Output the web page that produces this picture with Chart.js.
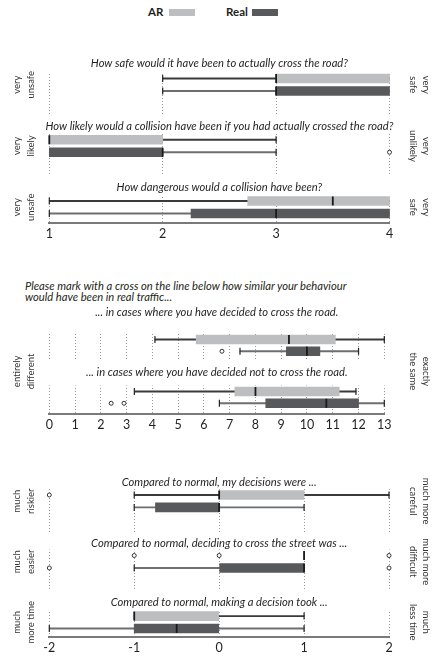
<!DOCTYPE html>
<html>
<head>
<meta charset="utf-8">
<script src="https://cdn.jsdelivr.net/npm/chart.js@4.4.1/dist/chart.umd.min.js"></script>
<style>
  body { margin: 0; width: 437px; height: 657px; background: #fff; position: relative; overflow: hidden; font-family: Lato, sans-serif; color: #231f20; }
  canvas { position: absolute; left: 0; }
  .lg { position: absolute; top: 5px; font-weight: bold; font-size: 11.5px; line-height: 14px; }
  .sw { position: absolute; top: 9px; width: 26px; height: 7px; }
  #intro { position: absolute; left: 25px; top: 281px; font-style: italic; font-size: 11.2px; line-height: 10.5px; }
</style>
</head>
<body>
<div class="lg" style="left:148px">AR</div>
<div class="sw" style="left:169px;background:#bcbec0"></div>
<div class="lg" style="left:226px">Real</div>
<div class="sw" style="left:252px;background:#58595b"></div>
<div id="intro">Please mark with a cross on the line below how similar your behaviour<br>would have been in real traffic...</div>
<canvas id="safety"></canvas>
<canvas id="similarity"></canvas>
<canvas id="comparison"></canvas>
<script>
/*******  Data: how safe / likely / dangerous  ******/
// each row: [min, q1, median, q3, max]
var safetyQuestions = ['How safe would it have been to actually cross the road?',
  'How likely would a collision have been if you had actually crossed the road?',
  'How dangerous would a collision have been?'];
var safetyLow = [['very', 'unsafe'], ['very', 'likely'], ['very', 'unsafe']];
var safetyHigh = [['very', 'safe'], ['very', 'unlikely'], ['very', 'safe']];
var safetyTicks = [1, 2, 3, 4];
var safetyAR = [[2, 3, 3, 4, 4], [1, 1, 1, 2, 3], [1, 2.75, 3.5, 4, 4]];
var safetyReal = [[2, 3, 3, 4, 4], [1, 1, 2, 2, 3], [1, 2.25, 3, 4, 4]];
var safetyOutAR = [[], [], []];
var safetyOutReal = [[], [4], []];

/*******  Data: similarity to real traffic  ******/
var similarQuestions = ['... in cases where you have decided to cross the road.',
  '... in cases where you have decided not to cross the road.'];
var similarLow = [['entirely', 'different']];
var similarHigh = [['exactly', 'the same']];
var similarTicks = [0, 1, 2, 3, 4, 5, 6, 7, 8, 9, 10, 11, 12, 13];
var similarAR = [[4.1, 5.7, 9.3, 11.1, 13], [3.3, 7.2, 8.0, 11.25, 11.9]];
var similarReal = [[7.4, 9.2, 10.0, 10.5, 12], [6.6, 8.4, 10.75, 12, 13]];
var similarOutAR = [[], []];
var similarOutReal = [[6.7], [2.4, 2.9]];

/*******  Data: compared to normal  ******/
var compareQuestions = ['Compared to normal, my decisions were ...',
  'Compared to normal, deciding to cross the street was ...',
  'Compared to normal, making a decision took ...'];
var compareLow = [['much', 'riskier'], ['much', 'easier'], ['much', 'more time']];
var compareHigh = [['much more', 'careful'], ['much more', 'difficult'], ['much', 'less time']];
var compareTicks = [-2, -1, 0, 1, 2];
var compareAR = [[-1, 0, 0, 1, 2], [1, 1, 1, 1, 1], [-1, -1, -1, 0, 1]];
var compareReal = [[-1, -0.75, 0, 0, 1], [-1, 0, 1, 1, 1], [-2, -1, -0.5, 0, 1]];
var compareOutAR = [[-2], [-1, 0, 2], []];
var compareOutReal = [[], [-2, 2], []];

/*******  Styles & layout  ******/
var boxColors = ['#bcbec0', '#58595b'];
var whiskerColors = ['#3a3a3a', '#6d6e70'];
var inkColor = '#231f20';
var fontFamily = 'Lato, sans-serif';

var safetyLayout = { top: 50, areaTop: 71, areaBottom: 223, firstRow: 78.5, rowGap: 12.5, blockGap: 61.25, lift: [15.5, 13.5, 14], left: 49.3, right: 389.5, sideSpan: 'block' };
var similarLayout = { top: 300, areaTop: 334, areaBottom: 414, firstRow: 339.5, rowGap: 11.75, blockGap: 52, lift: [27.5, 19.5], left: 49.3, right: 384.3, sideSpan: 'all' };
var compareLayout = { top: 470, areaTop: 489, areaBottom: 637.5, firstRow: 495, rowGap: 12.5, blockGap: 60.75, lift: [13, 12, 14], left: 49.3, right: 389, sideSpan: 'block' };

function boxDatasets(ar, real, outAR, outReal, block) {
  var sets = [];
  [ar, real].forEach(function (stats, s) {
    var outliers = s === 0 ? outAR : outReal;
    var rowOf = function (q) { return q * block + s; };
    var caps = [];
    var outPts = [];
    stats.forEach(function (st, q) {
      if (st[0] < st[1]) caps.push({ x: st[0], y: rowOf(q) });
      if (st[4] > st[3]) caps.push({ x: st[4], y: rowOf(q) });
      outliers[q].forEach(function (v) { outPts.push({ x: v, y: rowOf(q) }); });
    });
    sets.push({
      type: 'bar', indexAxis: 'y', grouped: false, order: 4, barThickness: 1.2,
      backgroundColor: whiskerColors[s], borderWidth: 0,
      data: stats.map(function (st, q) { return { y: rowOf(q), x: [st[0], st[4]] }; })
    });
    sets.push({
      type: 'bar', indexAxis: 'y', grouped: false, order: 3, barThickness: 9,
      backgroundColor: boxColors[s], borderWidth: 0,
      data: stats.map(function (st, q) { return { y: rowOf(q), x: [st[1], st[3]] }; })
    });
    sets.push({
      type: 'scatter', order: 2, data: caps, pointStyle: 'line', rotation: 90,
      radius: 3.5, borderColor: '#222', borderWidth: 1.2
    });
    sets.push({
      type: 'scatter', order: 1, pointStyle: 'line', rotation: 90,
      radius: 4.5, borderColor: '#1a1a1a', borderWidth: 1.8,
      data: stats.map(function (st, q) { return { x: st[2], y: rowOf(q) }; })
    });
    sets.push({
      type: 'scatter', order: 0, data: outPts, pointStyle: 'circle',
      radius: 2, borderColor: '#333', borderWidth: 1, backgroundColor: '#fff'
    });
  });
  return sets;
}

function drawSide(ctx, lines, x, yc, angle) {
  ctx.save();
  ctx.font = '9.5px ' + fontFamily;
  ctx.fillStyle = '#333';
  ctx.textAlign = 'center';
  ctx.textBaseline = 'middle';
  lines.forEach(function (t, i) {
    ctx.save();
    ctx.translate(x[i], yc);
    ctx.rotate(angle);
    ctx.fillText(t, 0, 0);
    ctx.restore();
  });
  ctx.restore();
}

function textPlugin(titles, low, high, lay) {
  var block = lay.blockGap / lay.rowGap;
  return {
    id: 'questionText',
    beforeDatasetsDraw: function (chart) {
      var ctx = chart.ctx, ys = chart.scales.y, a = chart.chartArea;
      titles.forEach(function (t, q) {
        var yAR = ys.getPixelForValue(q * block);
        var ty = yAR - lay.lift[q];
        ctx.save();
        ctx.fillStyle = '#fff';
        ctx.fillRect(a.left - 3, ty - 11, a.right - a.left + 6, yAR - 6 - (ty - 11));
        ctx.font = 'italic 11.2px ' + fontFamily;
        ctx.fillStyle = inkColor;
        ctx.textAlign = 'center';
        ctx.textBaseline = 'middle';
        ctx.fillText(t, (a.left + a.right) / 2, ty);
        ctx.restore();
      });
      low.forEach(function (lines, q) {
        var yc;
        if (lay.sideSpan === 'all') {
          yc = (ys.getPixelForValue(0) + ys.getPixelForValue((titles.length - 1) * block + 1)) / 2;
        } else {
          yc = (ys.getPixelForValue(q * block) + ys.getPixelForValue(q * block + 1)) / 2;
        }
        drawSide(ctx, lines, [17, 30.5], yc, -Math.PI / 2);
        drawSide(ctx, high[q], [426, 413], yc, Math.PI / 2);
      });
    }
  };
}

function makePanel(id, ticks, ar, real, outAR, outReal, titles, low, high, lay) {
  var canvas = document.getElementById(id);
  var axisHeight = 22;
  var height = lay.areaBottom - lay.top + axisHeight;
  canvas.width = 437;
  canvas.height = height;
  canvas.style.top = lay.top + 'px';
  var block = lay.blockGap / lay.rowGap;
  var yMin = -(lay.firstRow - lay.areaTop) / lay.rowGap;
  var yMax = yMin + (lay.areaBottom - lay.areaTop) / lay.rowGap;
  return new Chart(canvas, {
    type: 'bar',
    data: { datasets: boxDatasets(ar, real, outAR, outReal, block) },
    options: {
      responsive: false,
      animation: false,
      events: [],
      clip: false,
      layout: { padding: { left: lay.left, right: 437 - lay.right, top: lay.areaTop - lay.top, bottom: 0 } },
      plugins: { legend: { display: false }, tooltip: { enabled: false } },
      scales: {
        x: {
          type: 'linear', offset: false, min: ticks[0], max: ticks[ticks.length - 1],
          afterFit: function (s) { s.height = axisHeight; },
          afterBuildTicks: function (s) { s.ticks = ticks.map(function (v) { return { value: v }; }); },
          grid: { offset: false, color: '#9a9a9a', lineWidth: 1, drawTicks: false },
          border: { display: true, color: '#7a7a7a', width: 2, dash: [1, 2] },
          ticks: { color: inkColor, padding: 3, font: { family: fontFamily, size: 12.5 } }
        },
        y: { type: 'linear', display: false, offset: false, reverse: true, min: yMin, max: yMax }
      }
    },
    plugins: [textPlugin(titles, low, high, lay)]
  });
}

var safetyChart = makePanel('safety', safetyTicks, safetyAR, safetyReal, safetyOutAR, safetyOutReal,
  safetyQuestions, safetyLow, safetyHigh, safetyLayout);
var similarChart = makePanel('similarity', similarTicks, similarAR, similarReal, similarOutAR, similarOutReal,
  similarQuestions, similarLow, similarHigh, similarLayout);
var compareChart = makePanel('comparison', compareTicks, compareAR, compareReal, compareOutAR, compareOutReal,
  compareQuestions, compareLow, compareHigh, compareLayout);
</script>
</body>
</html>
